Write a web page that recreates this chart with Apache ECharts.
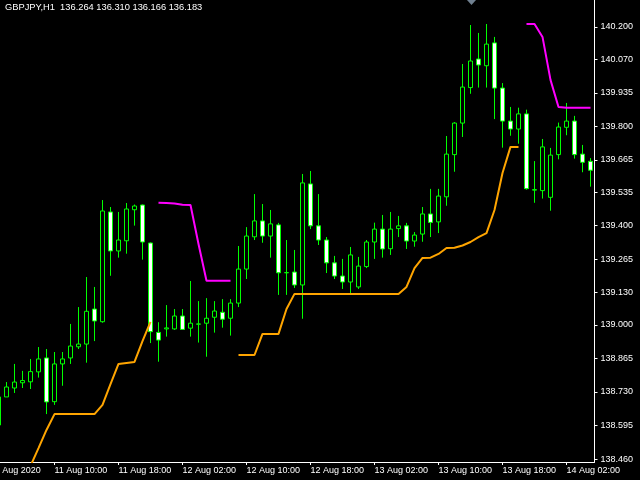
<!DOCTYPE html>
<html>
<head>
<meta charset="utf-8">
<script src="https://cdn.jsdelivr.net/npm/echarts@6/dist/echarts.min.js"></script>
<style>
html,body{margin:0;padding:0;background:#000;}
#chart{width:640px;height:480px;}
</style>
</head>
<body>
<div id="chart"></div>
<script>
// Hourly bars (H1), GBPJPY
const categories = [
"11 Aug 02:00","11 Aug 03:00","11 Aug 04:00","11 Aug 05:00","11 Aug 06:00","11 Aug 07:00","11 Aug 08:00","11 Aug 09:00",
"11 Aug 10:00","11 Aug 11:00","11 Aug 12:00","11 Aug 13:00","11 Aug 14:00","11 Aug 15:00","11 Aug 16:00","11 Aug 17:00",
"11 Aug 18:00","11 Aug 19:00","11 Aug 20:00","11 Aug 21:00","11 Aug 22:00","11 Aug 23:00","12 Aug 00:00","12 Aug 01:00",
"12 Aug 02:00","12 Aug 03:00","12 Aug 04:00","12 Aug 05:00","12 Aug 06:00","12 Aug 07:00","12 Aug 08:00","12 Aug 09:00",
"12 Aug 10:00","12 Aug 11:00","12 Aug 12:00","12 Aug 13:00","12 Aug 14:00","12 Aug 15:00","12 Aug 16:00","12 Aug 17:00",
"12 Aug 18:00","12 Aug 19:00","12 Aug 20:00","12 Aug 21:00","12 Aug 22:00","12 Aug 23:00","13 Aug 00:00","13 Aug 01:00",
"13 Aug 02:00","13 Aug 03:00","13 Aug 04:00","13 Aug 05:00","13 Aug 06:00","13 Aug 07:00","13 Aug 08:00","13 Aug 09:00",
"13 Aug 10:00","13 Aug 11:00","13 Aug 12:00","13 Aug 13:00","13 Aug 14:00","13 Aug 15:00","13 Aug 16:00","13 Aug 17:00",
"13 Aug 18:00","13 Aug 19:00","13 Aug 20:00","13 Aug 21:00","13 Aug 22:00","13 Aug 23:00","14 Aug 00:00","14 Aug 01:00",
"14 Aug 02:00","14 Aug 03:00","14 Aug 04:00","14 Aug 05:00"
];

const timeTickLabels = ["11 Aug 2020","11 Aug 10:00","11 Aug 18:00","12 Aug 02:00","12 Aug 10:00",
  "12 Aug 18:00","13 Aug 02:00","13 Aug 10:00","13 Aug 18:00","14 Aug 02:00"];

const priceTicks = [138.460,138.595,138.730,138.865,139.000,139.130,139.265,139.400,
  139.535,139.665,139.800,139.935,140.070,140.200];

const opens = ['-',
138.597,138.710,138.746,138.767,138.771,138.811,138.867,138.691,138.843,138.867,
138.912,138.923,139.064,139.013,139.455,139.298,139.339,139.464,139.483,139.330,
138.970,138.984,138.984,139.036,138.987,139.003,139.007,139.031,139.051,139.027,
139.088,139.225,139.355,139.419,139.358,139.403,139.210,139.213,139.161,139.568,
139.399,139.342,139.250,139.197,139.173,139.153,139.235,139.334,139.386,139.307,
139.388,139.399,139.338,139.366,139.447,139.415,139.516,139.686,139.813,139.956,
140.071,140.044,140.136,139.954,139.821,139.789,139.850,139.543,139.541,139.514,
139.686,139.796,139.821,139.688,139.659];

const closes = ['-',
138.710,138.750,138.770,138.776,138.812,138.863,138.690,138.843,138.863,138.915,
138.923,139.055,139.016,139.459,139.298,139.342,139.467,139.479,139.334,138.973,
138.939,138.988,139.036,138.982,139.007,139.004,139.027,139.056,139.023,139.088,
139.225,139.358,139.419,139.358,139.407,139.210,139.211,139.161,139.572,139.399,
139.342,139.250,139.197,139.173,139.282,139.237,139.334,139.386,139.306,139.386,
139.399,139.338,139.362,139.447,139.413,139.519,139.688,139.813,139.958,140.063,
140.047,140.131,139.954,139.821,139.789,139.850,139.549,139.545,139.717,139.684,
139.797,139.821,139.686,139.655,139.623];

const lows = ['-',
138.590,138.710,138.726,138.746,138.742,138.788,138.641,138.678,138.755,138.843,
138.903,138.848,138.935,139.009,139.198,139.271,139.287,139.400,139.263,138.927,
138.852,138.953,138.980,138.980,138.953,138.929,138.872,138.969,138.989,138.957,
139.072,139.185,139.342,139.331,139.271,139.121,139.121,139.149,139.025,139.386,
139.322,139.209,139.185,139.145,139.121,139.145,139.229,139.266,139.271,139.282,
139.354,139.306,139.315,139.335,139.354,139.370,139.480,139.617,139.757,139.931,
139.956,139.956,139.829,139.714,139.762,139.730,139.545,139.492,139.509,139.460,
139.667,139.764,139.670,139.615,139.557];

const highs = ['-',
138.720,138.770,138.843,138.815,138.863,138.911,138.903,138.891,138.891,139.004,
139.072,139.193,139.153,139.503,139.475,139.455,139.491,139.485,139.485,139.332,
139.011,139.080,139.064,139.064,139.177,139.096,139.108,139.096,139.104,139.104,
139.318,139.394,139.527,139.487,139.463,139.411,139.342,139.302,139.608,139.620,
139.527,139.354,139.278,139.266,139.314,139.274,139.342,139.412,139.443,139.455,
139.439,139.411,139.374,139.475,139.548,139.548,139.761,139.817,140.051,140.208,
140.176,140.212,140.160,139.974,139.878,139.875,139.867,139.660,139.749,139.713,
139.815,139.894,139.842,139.725,139.672];

// lower (orange) line
const lowerLine = [null,null,null,null,null,
138.432,138.504,138.577,138.641,138.641,138.641,138.641,138.641,138.641,138.678,
138.762,138.843,138.847,138.851,138.935,139.012,
null,null,null,null,null,null,null,null,null,null,
138.879,138.879,138.879,138.964,138.964,138.964,139.064,139.125,139.125,139.125,
139.125,139.125,139.125,139.125,139.125,139.125,139.125,139.125,139.125,139.125,
139.125,139.153,139.229,139.270,139.271,139.286,139.310,139.311,139.320,139.334,
139.354,139.370,139.463,139.612,139.717,139.717,
null,null,null,null,null,null,null,null,null];

// upper (magenta) line
const upperLine = [null,null,null,null,null,null,null,null,null,null,
null,null,null,null,null,null,null,null,null,null,null,
139.492,139.491,139.489,139.484,139.483,139.326,139.178,139.178,139.178,139.178,
null,null,null,null,null,null,null,null,null,null,
null,null,null,null,null,null,null,null,null,null,
null,null,null,null,null,null,null,null,null,null,
null,null,null,null,null,null,
140.212,140.212,140.160,139.987,139.878,139.875,139.875,139.875,139.875];

const candleData = categories.map((c, i) =>
  opens[i] === '-' ? ['-', '-', '-', '-'] : [opens[i], closes[i], lows[i], highs[i]]);

const FONT = 'Liberation Sans';
const chart = echarts.init(document.getElementById('chart'), null, {renderer: 'canvas'});
chart.setOption({
  backgroundColor: '#000000',
  animation: false,
  grid: {left: -13.5, top: 0, width: 608, height: 462, containLabel: false, outerBoundsMode: 'none'},
  xAxis: {
    type: 'category',
    data: categories,
    boundaryGap: true,
    axisLine: {lineStyle: {color: '#ffffff', width: 1}},
    axisTick: {show: true, interval: 7, alignWithLabel: true, length: 3, lineStyle: {color: '#ffffff'}},
    axisLabel: {
      interval: 7, color: '#ffffff', fontFamily: FONT, fontSize: 9, align: 'left', margin: 4,
      hideOverlap: false,
      formatter: (v, idx) => timeTickLabels[Math.round(idx / 8)] || ''
    },
    splitLine: {show: false}
  },
  yAxis: {
    type: 'value',
    position: 'right',
    min: 138.448, max: 140.3087,
    axisLine: {show: true, lineStyle: {color: '#ffffff', width: 1}},
    axisTick: {show: true, length: 3, customValues: priceTicks, lineStyle: {color: '#ffffff'}},
    axisLabel: {color: '#ffffff', fontFamily: FONT, fontSize: 9, margin: 6,
      customValues: priceTicks, formatter: v => Number(v).toFixed(3)},
    splitLine: {show: false}
  },
  graphic: [
    {type: 'text', left: 5, top: 3, style: {text: 'GBPJPY,H1  136.264 136.310 136.166 136.183',
      fill: '#ffffff', font: '9.3px "' + FONT + '"'}},
    {type: 'polygon', shape: {points: [[467, 0], [476, 0], [471.5, 5]]}, style: {fill: '#708090'}}
  ],
  series: [
    {
      type: 'candlestick',
      data: candleData,
      barWidth: 4,
      itemStyle: {
        color: '#000000', color0: '#ffffff',
        borderColor: '#00ff00', borderColor0: '#00ff00', borderColorDoji: '#00ff00',
        borderWidth: 1
      }
    },
    {
      type: 'line', data: lowerLine, showSymbol: false, connectNulls: false,
      lineStyle: {color: '#ffa500', width: 2}, itemStyle: {color: '#ffa500'}
    },
    {
      type: 'line', data: upperLine, showSymbol: false, connectNulls: false,
      lineStyle: {color: '#ff00ff', width: 2}, itemStyle: {color: '#ff00ff'}
    }
  ]
});
</script>
</body>
</html>
